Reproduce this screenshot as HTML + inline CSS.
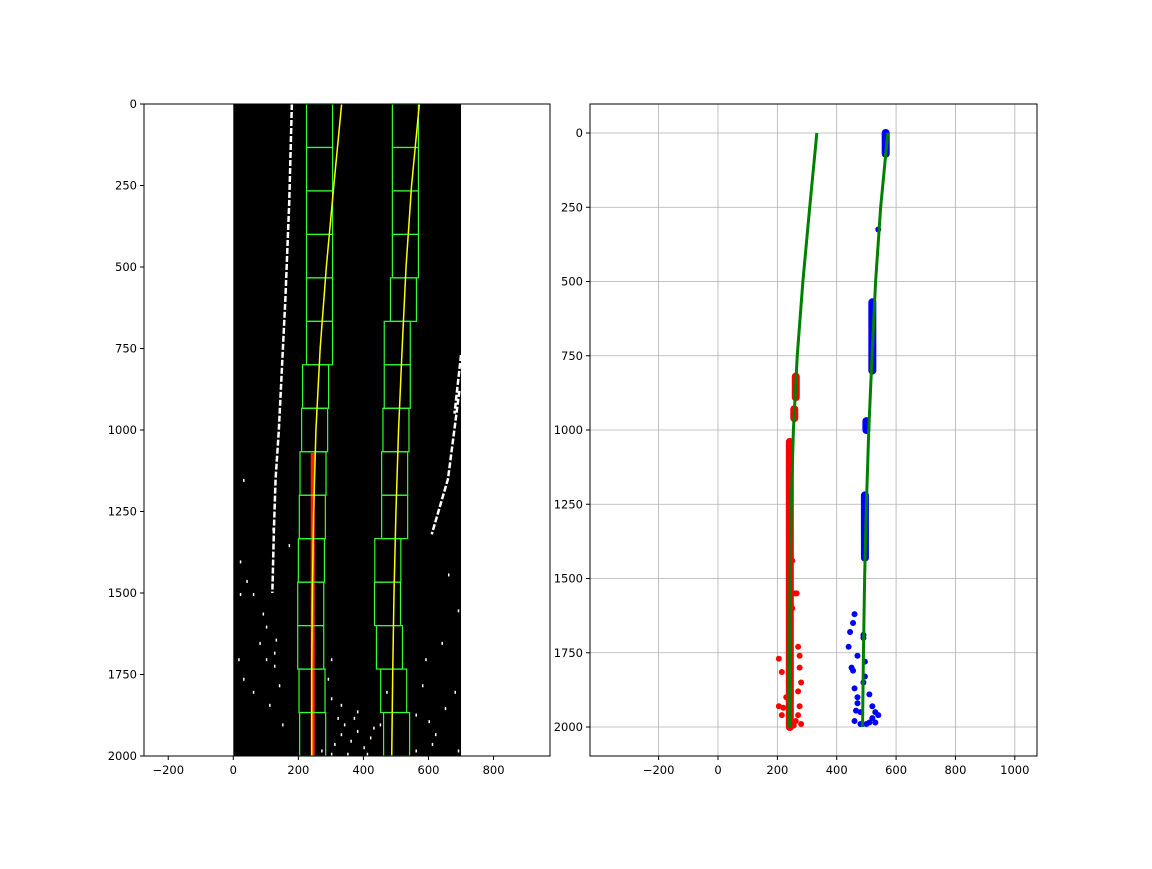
<!DOCTYPE html>
<html><head><meta charset="utf-8"><style>
body{margin:0;background:#fff;}
svg text{font-family:"DejaVu Sans","Liberation Sans",sans-serif;font-size:11.5px;fill:#000;}
</style></head><body>
<svg id="s" width="1152" height="864" xmlns="http://www.w3.org/2000/svg"></svg>
<script>
const fitY=[0,250,500,750,1000,1250,1500,1750,2000];
const leftFitX=[333,309,286,267,254,247,243,241,241];
const rightFitX=[572,548,531,519,508,500,494,490,487];
const leftWinX=[244,242,238,238,240,243,245,250,253,265,265,265,265,265,265];
const rightWinX=[502,493,480,474,475,496,496,500,504,504,523,529,529,529,529];
const redSegs=[[242,1040,2000],[262,820,890],[257,930,960]];
const blueSegs=[[565,0,70],[520,570,800],[500,970,1000],[495,1220,1430]];
const redPts=[[205,1770],[215,1815],[230,1900],[270,1730],[275,1760],[275,1800],[280,1850],[270,1880],[275,1930],[205,1930],[215,1960],[270,1960],[280,1990],[240,1990],[220,1935],[260,1550],[250,1440],[262,1980],[255,1995],[265,1550],[250,1600]];
const bluePts=[[460,1620],[455,1650],[445,1680],[440,1730],[450,1800],[470,1760],[490,1690],[490,1700],[495,1780],[495,1830],[460,1870],[470,1900],[510,1890],[520,1930],[530,1950],[480,1950],[460,1980],[500,1990],[520,1970],[540,1960],[470,1920],[490,1850],[540,325],[455,1810],[510,1985],[530,1985],[480,1990],[465,1945]];
const noisePts=[[20,1400],[40,1460],[60,1500],[90,1560],[130,1640],[30,1760],[60,1800],[110,1840],[150,1900],[290,1760],[300,1820],[320,1880],[340,1900],[360,1950],[380,1920],[400,1970],[420,1940],[350,1990],[310,1960],[330,1930],[380,1860],[560,1870],[600,1890],[620,1930],[650,1850],[680,1800],[590,1700],[640,1650],[690,1550],[660,1440],[30,1150],[120,1300],[170,1350],[80,1650],[100,1700],[140,1780],[450,1900],[470,1800],[560,1980],[690,1980],[300,1990],[270,1980],[330,1840],[370,1880],[410,1990],[430,1910],[300,1700],[580,1780],[610,1960],[20,1500],[15,1700],[100,1600],[125,1680],[125,1720]];
const whiteLines=[[[180,0],[172,300],[160,600],[150,800],[140,1000],[130,1150],[125,1300],[120,1500]],[[695,880],[660,1150],[610,1320]],[[700,770],[680,950]]];
const leftXTicks=[-200,0,200,400,600,800];
const leftYTicks=[0,250,500,750,1000,1250,1500,1750,2000];
const rightXTicks=[-200,0,200,400,600,800,1000];
const rightYTicks=[0,250,500,750,1000,1250,1500,1750,2000];
const svg=document.getElementById('s');const NS='http://www.w3.org/2000/svg';
function mk(t,a,p){const e=document.createElementNS(NS,t);for(const k in a)e.setAttribute(k,a[k]);(p||svg).appendChild(e);return e;}
const xL=v=>233.3+v*0.3253,yL=v=>104+v*0.326;
const xR=v=>718+v*0.2968,yR=v=>133+v*0.297;
// LEFT
let g=mk('g',{});
let im=mk('rect',{x:xL(0),y:104,width:xL(700)-xL(0),height:652,fill:'#000'},g);

whiteLines.forEach(l=>{let p=mk('polyline',{points:l.map(q=>xL(q[0])+','+yL(q[1])).join(' '),fill:'none',stroke:'#fff','stroke-width':2.5,'stroke-dasharray':'6 2'},g);});
noisePts.forEach(q=>{let r=mk('rect',{x:xL(q[0]),y:yL(q[1]),width:1.5,height:3,fill:'#fff'},g);});
let rc=mk('rect',{x:xL(redSegs[0][0]-4),y:yL(redSegs[0][1]+30),width:4,height:yL(2000)-yL(redSegs[0][1]+30),fill:'#ff2000'},g);
const n=leftWinX.length,wh=2000/n;
leftWinX.forEach((c,i)=>{let r=mk('rect',{x:xL(c-40),y:yL(2000-(i+1)*wh),width:xL(80)-xL(0),height:yL(wh)-yL(0),fill:'none',stroke:'#3f3','stroke-width':1.2},g);});
rightWinX.forEach((c,i)=>{let r=mk('rect',{x:xL(c-40),y:yL(2000-(i+1)*wh),width:xL(80)-xL(0),height:yL(wh)-yL(0),fill:'none',stroke:'#3f3','stroke-width':1.2},g);});
[leftFitX,rightFitX].forEach((a,k)=>{let p=mk('polyline',{points:fitY.map((y,i)=>xL(a[i])+','+yL(y)).join(' '),fill:'none',stroke:'#ffff00','stroke-width':1.5},g);});
let fr=mk('rect',{x:144,y:104,width:406,height:652,fill:'none',stroke:'#000','stroke-width':1},g);
leftXTicks.forEach(v=>{mk('line',{x1:xL(v),x2:xL(v),y1:756,y2:760,stroke:'#000'},g);let t=mk('text',{x:xL(v),y:774,'text-anchor':'middle'},g);t.textContent=v<0?'\u2212'+(-v):v;});
leftYTicks.forEach(v=>{mk('line',{x1:140,x2:144,y1:yL(v),y2:yL(v),stroke:'#000'},g);let t=mk('text',{x:137,y:yL(v)+4,'text-anchor':'end'},g);t.textContent=v;});
// RIGHT
let h=mk('g',{});
rightXTicks.forEach(v=>{let l=mk('line',{x1:xR(v),x2:xR(v),y1:104,y2:756,stroke:'#b0b0b0','stroke-width':0.8},h);});
rightYTicks.forEach(v=>{let l=mk('line',{x1:590,x2:1037,y1:yR(v),y2:yR(v),stroke:'#b0b0b0','stroke-width':0.8},h);});
function seg(s,col,nm){let r=mk('line',{x1:xR(s[0]),x2:xR(s[0]),y1:yR(s[1]),y2:yR(s[2]),stroke:col,'stroke-width':8,'stroke-linecap':'round'},h);}
redSegs.forEach(s=>seg(s,'#f00','left-points-cluster'));
blueSegs.forEach(s=>seg(s,'#00f','right-points-cluster'));
redPts.forEach(q=>{let c=mk('circle',{cx:xR(q[0]),cy:yR(q[1]),r:3,fill:'#f00'},h);});
bluePts.forEach(q=>{let c=mk('circle',{cx:xR(q[0]),cy:yR(q[1]),r:3,fill:'#00f'},h);});
[leftFitX,rightFitX].forEach((a,k)=>{let p=mk('polyline',{points:fitY.map((y,i)=>xR(a[i])+','+yR(y)).join(' '),fill:'none',stroke:'#008000','stroke-width':3},h);});
let fr2=mk('rect',{x:590,y:104,width:447,height:652,fill:'none',stroke:'#000','stroke-width':1},h);
rightXTicks.forEach(v=>{mk('line',{x1:xR(v),x2:xR(v),y1:756,y2:760,stroke:'#000'},h);let t=mk('text',{x:xR(v),y:774,'text-anchor':'middle'},h);t.textContent=v<0?'\u2212'+(-v):v;});
rightYTicks.forEach(v=>{mk('line',{x1:586,x2:590,y1:yR(v),y2:yR(v),stroke:'#000'},h);let t=mk('text',{x:583,y:yR(v)+4,'text-anchor':'end'},h);t.textContent=v;});
</script>
</body></html>
